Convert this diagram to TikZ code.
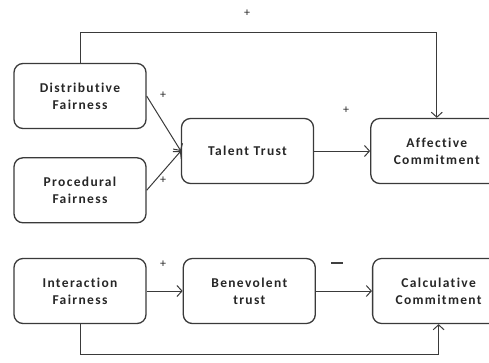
\documentclass[tikz,border=0pt]{standalone}
\usepackage{fontspec}
\setmainfont{Carlito}[LetterSpace=10, Ligatures={NoCommon}]
\usepackage{xcolor}
\usepackage{tikz}
\usetikzlibrary{arrows.meta, positioning}
\definecolor{linegray}{HTML}{3A3A3A}

\begin{document}
\begin{tikzpicture}[
    x=1pt, y=-1pt,
    box/.style={draw=linegray, line width=1.3pt, rounded corners=9pt, minimum width=132pt, minimum height=65pt, align=center, font=\bfseries\fontsize{13.5}{17}\selectfont, text=black!85},
    sign/.style={inner sep=0pt, font=\fontsize{12}{12}\selectfont, text=black!85},
    arrow/.style={-{Straight Barb[length=5pt, width=11pt]}, line width=1pt, color=linegray}
]
\clip (0,0) rectangle (489,362);
\node[box] (dist) at (80,96) {Distributive\\Fairness};
\node[box, below=28pt of dist] (proc) {Procedural\\Fairness};
\node[box] (talent) at (247.5,151) {Talent Trust};
\node[box, right=56pt of talent] (affect) {Affective\\Commitment};
\node[box] (inter) at (80,291) {Interaction\\Fairness};
\node[box, right=36pt of inter] (benev) {Benevolent\\trust};
\node[box, right=56pt of benev] (calc) {Calculative\\Commitment};

% signs on the paths
\node[sign] (s1) at (247,13) {+};
\node[sign] (s2) at (163,95) {+};
\node[sign] (s3) at (163,180) {+};
\node[sign] (s4) at (346,110) {+};
\node[sign] (s5) at (163,264) {+};
\node[sign, fill=black!75, minimum width=12pt, minimum height=1.4pt] (s6) at (337,263) {};

\draw[arrow] (dist.east) -- (talent.west);
\draw[arrow] (proc.east) -- (talent.west);
\draw[arrow] (talent) -- (affect);
\draw[arrow] (inter) -- (benev);
\draw[arrow] (benev) -- (calc);
\draw[arrow] (dist.north) -- ++(0,-30) -| (affect.north);
\draw[arrow] (inter.south) -- ++(0,30) -| (calc.south);
\end{tikzpicture}
\end{document}
